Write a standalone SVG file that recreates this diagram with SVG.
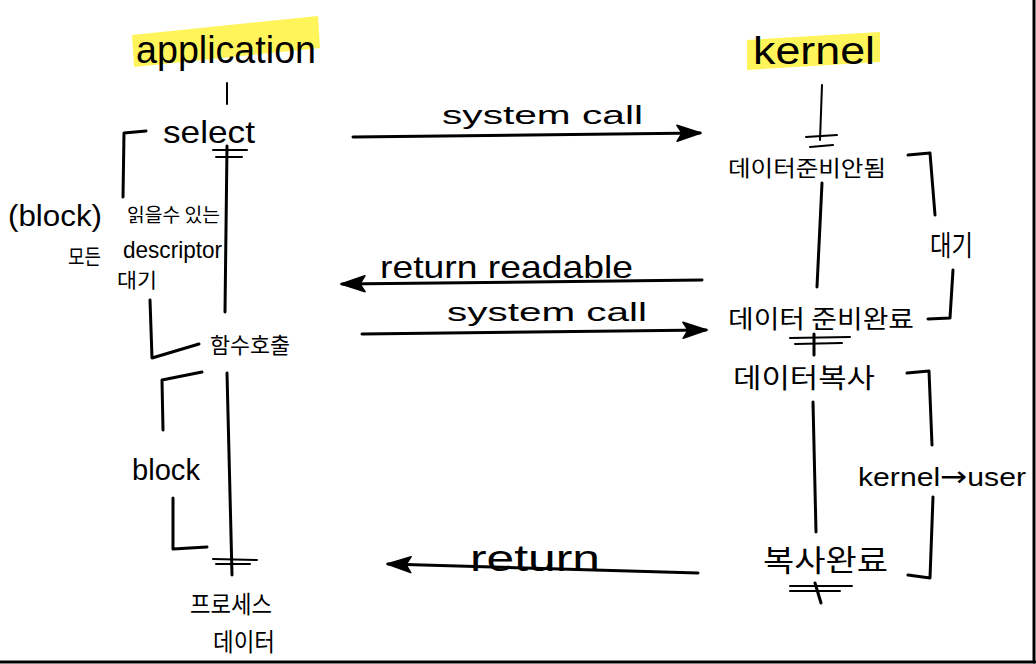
<svg xmlns="http://www.w3.org/2000/svg" width="1036" height="664" viewBox="0 0 1036 664">
<defs>
<style>
.t{font-family:"Liberation Sans","DejaVu Sans",sans-serif;fill:#000}
.k{font-family:"Noto Sans CJK KR","Noto Sans",sans-serif;fill:#000}
.s{fill:none;stroke:#000;stroke-width:3;stroke-linecap:round;stroke-linejoin:round}
.thin{fill:none;stroke:#000;stroke-width:2;stroke-linecap:round}
.hl{fill:#fff55a}
</style>
<marker id="ah" viewBox="0 0 26 18" refX="24" refY="9" markerWidth="26" markerHeight="18" markerUnits="userSpaceOnUse" orient="auto">
<path d="M1,1 L25,9 L1,17 L6,9 z" fill="#000" stroke="#000" stroke-width="1.5" stroke-linejoin="round"/>
</marker>
</defs>
<rect width="1036" height="664" fill="#fff"/>
<g id="frame">
<line x1="1034" y1="0" x2="1034" y2="662" class="s" stroke-linecap="butt"/>
<line x1="0" y1="662" x2="1035" y2="662" class="s" stroke-linecap="butt"/>
</g>

<g id="application">
<polygon class="hl" points="132,35 318,16 320,48 134,67"/>
<text class="t" x="136" y="63" font-size="38" textLength="180" lengthAdjust="spacingAndGlyphs">application</text>
</g>
<g id="kernel">
<polygon class="hl" points="747,40 880,32 880,62 747,70"/>
<text class="t" x="753" y="64" font-size="38" textLength="122" lengthAdjust="spacingAndGlyphs">kernel</text>
</g>

<g id="select">
<text class="t" x="163" y="143" font-size="32" textLength="92" lengthAdjust="spacingAndGlyphs">select</text>
</g>
<g id="block-note">
<text class="t" x="8" y="226" font-size="30" textLength="94" lengthAdjust="spacingAndGlyphs">(block)</text>
<text class="k" x="127" y="222" font-size="19" textLength="93" lengthAdjust="spacingAndGlyphs">읽을수 있는</text>
<text class="k" x="68" y="264" font-size="21" textLength="33" lengthAdjust="spacingAndGlyphs">모든</text>
<text class="t" x="123" y="258" font-size="24" textLength="99" lengthAdjust="spacingAndGlyphs">descriptor</text>
<text class="k" x="117" y="288" font-size="20" textLength="40" lengthAdjust="spacingAndGlyphs">대기</text>
</g>
<g id="func-call">
<text class="k" x="210" y="353" font-size="22" textLength="80" lengthAdjust="spacingAndGlyphs">함수호출</text>
</g>
<g id="block">
<text class="t" x="132" y="480" font-size="30" textLength="68" lengthAdjust="spacingAndGlyphs">block</text>
</g>
<g id="process-data">
<text class="k" x="190" y="613" font-size="24" textLength="82" lengthAdjust="spacingAndGlyphs">프로세스</text>
<text class="k" x="213" y="651" font-size="25" textLength="62" lengthAdjust="spacingAndGlyphs">데이터</text>
</g>

<g id="data-not-ready">
<text class="k" x="728" y="176" font-size="22" textLength="158" lengthAdjust="spacingAndGlyphs">데이터준비안됨</text>
</g>
<g id="wait">
<text class="k" x="930" y="256" font-size="28" textLength="43" lengthAdjust="spacingAndGlyphs">대기</text>
</g>
<g id="data-ready">
<text class="k" x="728" y="328" font-size="25" textLength="186" lengthAdjust="spacingAndGlyphs">데이터 준비완료</text>
</g>
<g id="data-copy">
<text class="k" x="733" y="388" font-size="27" textLength="142" lengthAdjust="spacingAndGlyphs">데이터복사</text>
</g>
<g id="kernel-user">
<text class="t" x="858" y="486" font-size="26" textLength="168" lengthAdjust="spacingAndGlyphs">kernel<tspan font-family="DejaVu Sans, sans-serif" font-size="28">→</tspan>user</text>
</g>
<g id="copy-done">
<text class="k" x="763" y="571" font-size="30" textLength="125" lengthAdjust="spacingAndGlyphs">복사완료</text>
</g>

<g id="lifelines">
<line class="thin" x1="227" y1="83" x2="227" y2="104"/>
<line class="thin" x1="213" y1="150" x2="247" y2="150"/>
<line class="thin" x1="216" y1="157" x2="242" y2="157"/>
<path class="s" d="M227,146 L225,312"/>
<path class="s" d="M227,373 L232,575"/>
<line class="thin" x1="213" y1="559" x2="257" y2="560"/>
<line class="thin" x1="216" y1="564" x2="250" y2="564"/>
<path class="s" d="M123,197 L124,133 L146,131"/>
<path class="s" d="M150,300 L152,358 L199,344"/>
<path class="s" d="M202,372 L162,380 L163,430"/>
<path class="s" d="M173,498 L173,549 L207,547"/>

<path class="thin" d="M822,85 L820,140"/>
<line class="thin" x1="806" y1="137" x2="837" y2="135"/>
<line class="thin" x1="810" y1="147" x2="833" y2="145"/>
<path class="s" d="M822,183 L817,287"/>
<line class="thin" x1="790" y1="338" x2="850" y2="337"/>
<line class="thin" x1="795" y1="344" x2="842" y2="343"/>
<path class="s" d="M814,334 L814,355"/>
<path class="s" d="M813,402 L816,532"/>
<line class="thin" x1="790" y1="586" x2="852" y2="586"/>
<line class="thin" x1="790" y1="591" x2="840" y2="591"/>
<path class="s" d="M815,583 L821,603"/>
<path class="s" d="M908,155 L930,153 L935,215"/>
<path class="s" d="M953,270 L950,318 L928,319"/>
<path class="s" d="M907,373 L929,371 L932,445"/>
<path class="s" d="M933,497 L930,578 L908,575"/>
</g>

<g id="connectors">
<path class="s" d="M353,137 L700,133" marker-end="url(#ah)"/>
<text class="t" x="442" y="124" font-size="26" textLength="201" lengthAdjust="spacingAndGlyphs">system call</text>
<path class="s" d="M702,280 L342,284" marker-end="url(#ah)"/>
<text class="t" x="380" y="278" font-size="32" textLength="253" lengthAdjust="spacingAndGlyphs">return readable</text>
<path class="s" d="M362,334 L706,330" marker-end="url(#ah)"/>
<text class="t" x="447" y="321" font-size="26" textLength="200" lengthAdjust="spacingAndGlyphs">system call</text>
<path class="s" d="M698,573 L388,564" marker-end="url(#ah)"/>
<text class="t" x="470" y="571" font-size="37" textLength="130" lengthAdjust="spacingAndGlyphs">return</text>
</g>
</svg>
